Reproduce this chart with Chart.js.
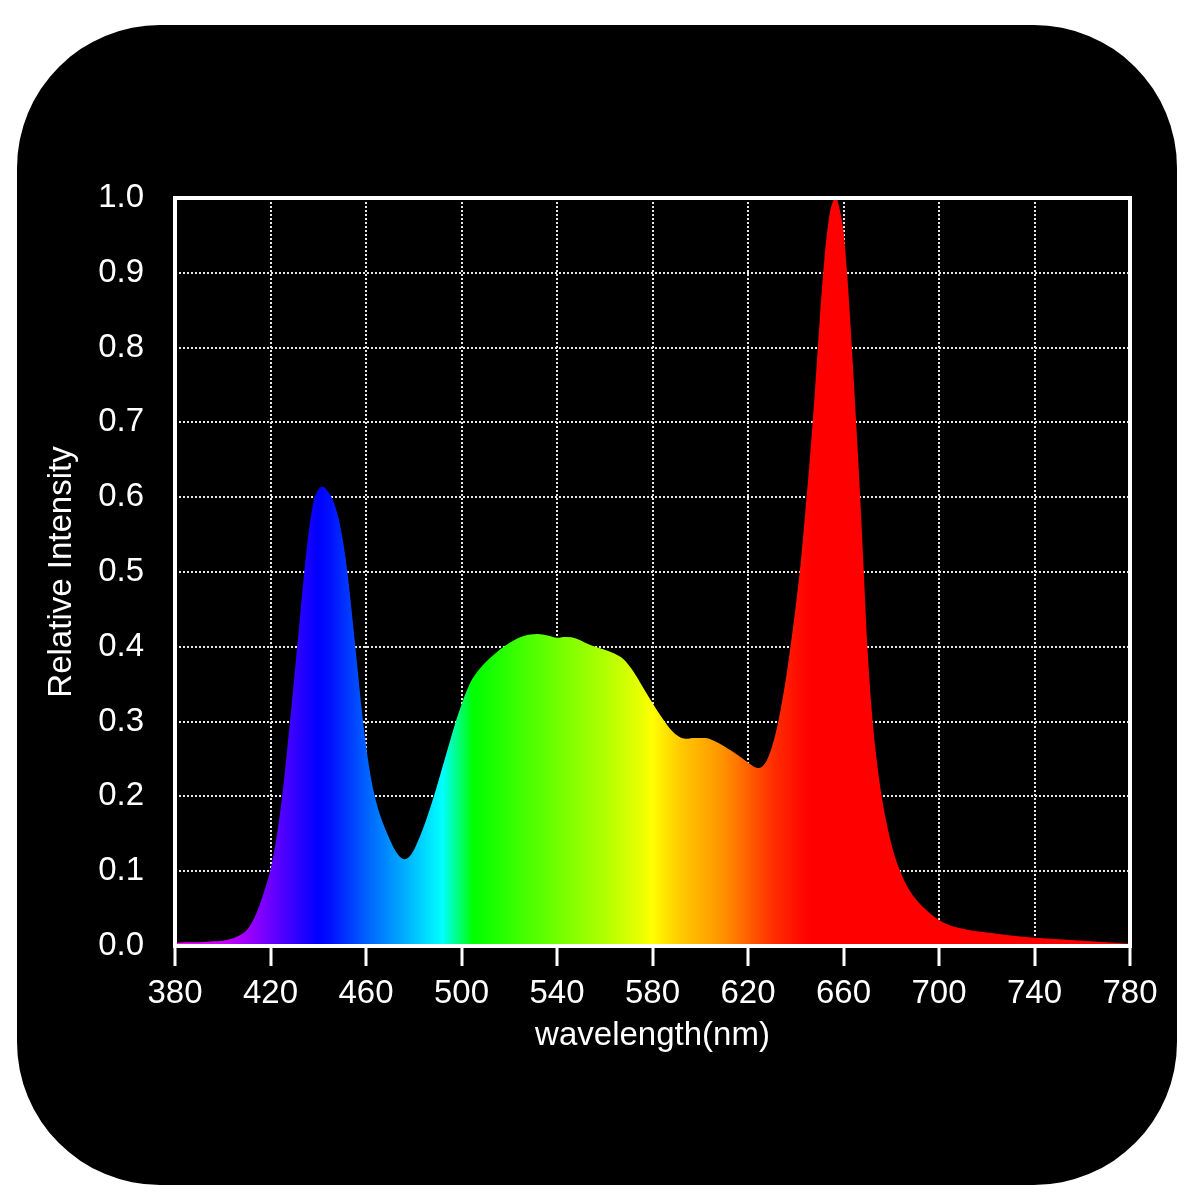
<!DOCTYPE html>
<html>
<head>
<meta charset="utf-8">
<script src="https://cdn.jsdelivr.net/npm/chart.js@4.4.1/dist/chart.umd.min.js"></script>
<style>
  html, body { margin: 0; padding: 0; background: #ffffff; }
  #wrap { position: relative; width: 1200px; height: 1200px; overflow: hidden; }
  #bg { position: absolute; left: 17px; top: 25px; width: 1160px; height: 1160px; background: #000; border-radius: 143px; }
  #c { position: absolute; left: 0; top: 0; }
</style>
</head>
<body>
<div id="wrap">
  <div id="bg"></div>
  <canvas id="c" width="1200" height="1200"></canvas>
</div>
<script>
// ---- data ----
const wavelengths = [
  380, 385, 390, 395, 400, 405, 408, 410, 412, 414, 416, 418, 420, 422, 424, 426, 428, 430,
  432, 434, 436, 438, 440, 442, 444, 446, 448, 450, 452, 454, 456, 458, 460, 462, 464, 466,
  468, 470, 472, 474, 476, 478, 480, 482, 484, 486, 488, 490, 492, 494, 496, 498, 500, 502,
  504, 506, 508, 510, 513, 516, 520, 524, 528, 532, 536, 540, 544, 548, 552, 556, 560, 564,
  568, 572, 576, 580, 584, 588, 591, 594, 598, 602, 606, 610, 614, 618, 621, 624, 626, 628,
  630, 632, 634, 636, 638, 640, 642, 644, 646, 648, 650, 652, 654, 656, 657, 658, 660, 661.5,
  663.5, 665.3, 667, 668.5, 670, 672, 674, 676, 678, 680, 682, 684, 687, 690, 694, 698, 702,
  706, 710, 715, 720, 730, 740, 750, 760, 770, 780
];
const intensity = [
  0.004, 0.005, 0.005, 0.006, 0.007, 0.011, 0.016, 0.021, 0.030, 0.043, 0.060, 0.080, 0.102, 0.135, 0.178, 0.232, 0.295, 0.360,
  0.428, 0.495, 0.553, 0.593, 0.610, 0.614, 0.608, 0.597, 0.578, 0.548, 0.505, 0.448, 0.385, 0.322, 0.268, 0.226, 0.196, 0.174,
  0.157, 0.142, 0.129, 0.120, 0.116, 0.119, 0.128, 0.142, 0.158, 0.176, 0.196, 0.217, 0.239, 0.261, 0.283, 0.304, 0.323, 0.340,
  0.354, 0.364, 0.372, 0.379, 0.388, 0.396, 0.405, 0.412, 0.416, 0.417, 0.415, 0.412, 0.413, 0.411, 0.405, 0.400, 0.396, 0.391,
  0.383, 0.367, 0.346, 0.325, 0.305, 0.288, 0.280, 0.277, 0.278, 0.278, 0.274, 0.267, 0.259, 0.250, 0.243, 0.238, 0.240, 0.249,
  0.266, 0.290, 0.322, 0.360, 0.405, 0.455, 0.510, 0.580, 0.655, 0.740, 0.835, 0.918, 0.975, 0.998, 1.000, 0.990, 0.955, 0.900,
  0.800, 0.700, 0.600, 0.500, 0.400, 0.308, 0.246, 0.200, 0.165, 0.137, 0.115, 0.098, 0.078, 0.064, 0.050, 0.039, 0.031,
  0.026, 0.023, 0.020, 0.018, 0.014, 0.011, 0.009, 0.007, 0.005, 0.003
];
const xTicks = [380, 420, 460, 500, 540, 580, 620, 660, 700, 740, 780];
const yTicks = [0.0, 0.1, 0.2, 0.3, 0.4, 0.5, 0.6, 0.7, 0.8, 0.9, 1.0];

// spectral colour stops (wavelength, colour)
const stopWavelengths = [380, 400, 410, 425, 440, 445, 460, 475, 492, 505, 520, 540, 560, 575, 580, 590, 600, 610, 620, 630, 640, 646, 780];
const stopColors = ['#ff00ff', '#cc00ff', '#a000ff', '#5000ff', '#0000ff', '#0010ff', '#0060ff', '#00a8ff', '#00ffff', '#00ff00',
  '#30ff00', '#70ff00', '#b0ff00', '#e8ff00', '#ffff00', '#ffd000', '#ffb000', '#ff9000', '#ff6000', '#ff3000', '#ff1000', '#ff0000', '#ff0000'];

const points = wavelengths.map((w, i) => ({ x: w, y: intensity[i] }));
const FONT = { family: "'Liberation Sans', Arial, Helvetica, sans-serif", size: 33 };

const plotBorder = {
  id: 'plotBorder',
  afterDatasetsDraw(chart) {
    const { ctx, chartArea: a } = chart;
    ctx.save();
    ctx.strokeStyle = '#ffffff';
    ctx.lineWidth = 4;
    ctx.setLineDash([]);
    ctx.strokeRect(a.left, a.top, a.right - a.left, a.bottom - a.top);
    ctx.restore();
  }
};

new Chart(document.getElementById('c'), {
  type: 'line',
  data: {
    datasets: [{
      data: points,
      fill: 'origin',
      borderWidth: 0,
      pointRadius: 0,
      cubicInterpolationMode: 'monotone',
      backgroundColor: (ctx) => {
        const chart = ctx.chart;
        const { chartArea, scales } = chart;
        if (!chartArea || !scales.x) return '#ff0000';
        const x0 = scales.x.getPixelForValue(stopWavelengths[0]);
        const x1 = scales.x.getPixelForValue(stopWavelengths[stopWavelengths.length - 1]);
        const g = chart.ctx.createLinearGradient(x0, 0, x1, 0);
        stopWavelengths.forEach((w, i) => {
          const p = (scales.x.getPixelForValue(w) - x0) / (x1 - x0);
          g.addColorStop(Math.min(1, Math.max(0, p)), stopColors[i]);
        });
        return g;
      },
      borderColor: 'rgba(0,0,0,0)'
    }]
  },
  options: {
    responsive: false,
    devicePixelRatio: 1,
    animation: false,
    layout: { padding: { top: 198, right: 70, left: 0, bottom: 0 } },
    plugins: { legend: { display: false }, tooltip: { enabled: false } },
    scales: {
      x: {
        type: 'linear',
        min: xTicks[0],
        max: xTicks[xTicks.length - 1],
        afterFit: (s) => { s.height = 254; },
        afterBuildTicks: (s) => { s.ticks = xTicks.map(v => ({ value: v })); },
        ticks: { color: '#ffffff', font: FONT, padding: 8, maxRotation: 0, autoSkip: false },
        grid: {
          color: '#e6e6e6', lineWidth: 2,
          drawTicks: true, tickLength: 20, tickWidth: 3, tickColor: '#ffffff', tickBorderDash: []
        },
        border: { display: false, dash: [2, 2] },
        title: { display: true, text: 'wavelength(nm)', color: '#ffffff', font: FONT, padding: { top: 0, bottom: 144 } }
      },
      y: {
        type: 'linear',
        min: yTicks[0],
        max: yTicks[yTicks.length - 1],
        afterFit: (s) => { s.width = 175; },
        afterBuildTicks: (s) => { s.ticks = yTicks.map(v => ({ value: v })); },
        ticks: { color: '#ffffff', font: FONT, padding: 31, callback: (v) => Number(v).toFixed(1) },
        grid: { color: '#e6e6e6', lineWidth: 2, drawTicks: false },
        border: { display: false, dash: [2, 2] },
        title: { display: true, text: 'Relative Intensity', color: '#ffffff', font: FONT, padding: { top: 42, bottom: 0 } }
      }
    }
  },
  plugins: [plotBorder]
});
</script>
</body>
</html>
